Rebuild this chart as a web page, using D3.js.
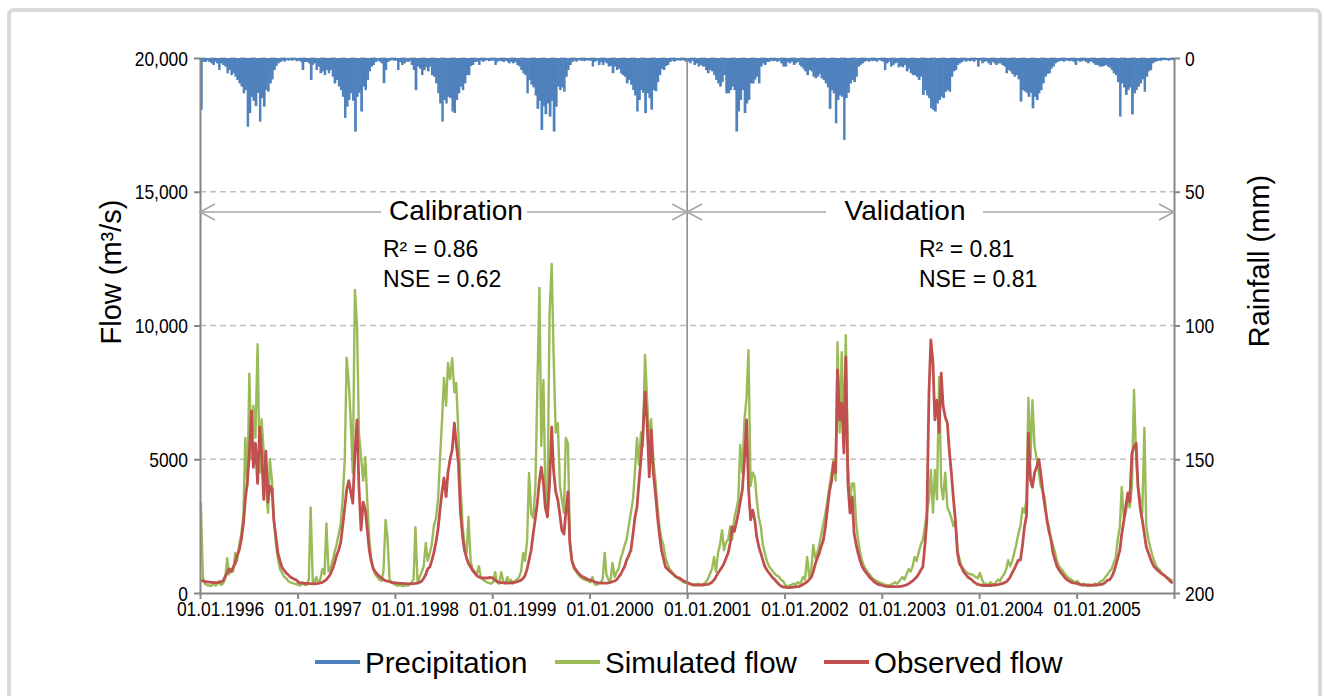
<!DOCTYPE html>
<html>
<head>
<meta charset="utf-8">
<script src="https://cdn.jsdelivr.net/npm/d3@7"></script>
<style>
  body { margin: 0; background: #fff; }
  text { font-family: "Liberation Sans", Arial, sans-serif; fill: #000; }
  .tick text { font-family: "Liberation Sans", Arial, sans-serif; font-size: 21px; }
</style>
</head>
<body>
<svg id="chart" width="1325" height="696"></svg>
<script>
// years on the x axis, each year holds 48 weekly readings (4 per month)
const years = [1996, 1997, 1998, 1999, 2000, 2001, 2002, 2003, 2004, 2005];

const flowTicks = [0, 5000, 10000, 15000, 20000];
const flowTickLabels = ["0", "5000", "10,000", "15,000", "20,000"];
const rainTicks = [0, 50, 100, 150, 200];

// observed flow, m3/s (one line = one year, Jan..Dec, 4 per month)
const observedFlow = [
  480,450,430,420, 410,400,400,390, 390,400,420,450, 600,750,900,800, 950,1100,1400,1600, 2000,2600,3500,4200, 5200,6800,4700,5600, 4100,6200,5300,3500, 5300,3400,4000,3900, 2700,2100,1500,1200, 950,850,750,680, 600,560,520,490,
  400,380,370,360, 360,350,350,340, 340,350,360,380, 400,450,500,600, 700,900,1100,1400, 1600,1900,2500,3200, 3850,4200,3800,3360, 5230,6470,4000,2350, 3400,3100,2400,1600, 1200,900,800,700, 620,560,500,460, 440,420,400,390,
  380,370,360,360, 350,350,340,340, 340,350,360,370, 400,450,550,700, 900,970,1200,1500, 1900,2400,3100,3800, 4300,3600,4500,5000, 5350,6350,5600,4860, 3000,2100,1600,1300, 1100,970,850,750, 650,600,570,560, 560,560,570,580,
  560,480,430,400, 390,380,380,370, 370,380,390,400, 420,450,480,550, 650,900,1230,1600, 2240,2800,3360,4200, 4700,4100,3200,2840, 4100,6200,4600,3800, 3480,2900,2350,2200, 3000,3780,1870,1200, 970,850,760,670, 620,580,540,500,
  490,450,420,400, 380,370,370,370, 370,380,400,420, 450,500,600,700, 850,1000,1230,1400, 1600,2200,2800,3220, 4100,5000,5980,7510, 6350,4340,6090,4500, 3740,2840,2200,1600, 1300,970,900,820, 750,680,620,580, 560,500,450,410,
  370,340,320,310, 300,300,300,300, 300,310,320,350, 400,490,600,750, 850,970,1100,1300, 1500,1900,2470,2300, 2600,2990,3400,3850, 4970,6470,3960,2730, 3100,2700,2100,1720, 1500,1230,1000,860, 750,650,560,490, 400,320,260,220,
  220,200,200,210, 220,230,240,250, 280,320,370,420, 500,600,800,1100, 1300,1500,1750,1980, 2500,3220,3800,4200, 4860,4500,8340,6470, 7100,5230,8820,4100, 2990,3590,2240,1800, 1500,1200,1000,860, 750,650,560,490, 420,360,320,300,
  280,260,250,240, 240,240,240,240, 240,250,260,280, 300,350,400,450, 520,600,700,850, 970,1800,2730,7470, 9460,8600,6470,7210, 6000,8220,7000,6580, 6350,5230,4490,3500, 2730,1500,1100,970, 800,700,600,550, 500,420,370,320,
  300,290,280,280, 280,280,290,300, 300,310,330,350, 380,420,490,600, 750,900,1050,1230, 1230,1800,2470,2900, 5980,4220,3960,4500, 4710,5000,4500,3800, 3220,2730,2300,1980, 1500,1230,1000,860, 750,650,560,490, 440,400,380,370,
  350,320,300,300, 300,300,290,290, 290,300,300,310, 320,350,400,480, 490,600,750,1000, 1300,1600,2200,2700, 3220,3740,3400,5230, 5460,5600,3960,3200, 2730,2200,1720,1500, 1300,1100,970,900, 820,750,700,650, 580,500,430,370
];

// simulated flow, m3/s
const simulatedFlow = [
  3400,600,350,300, 280,260,350,280, 300,450,300,350, 500,1300,700,900, 800,1500,1200,1800, 2200,3000,5800,4000, 8200,5000,7000,5800, 9300,4500,6500,5300, 4000,3000,5000,4200, 2800,1800,1300,900, 750,600,550,450, 400,380,350,330,
  300,280,400,300, 300,500,3200,400, 350,600,400,500, 900,700,2600,800, 900,1200,1500,1800, 2200,2600,3500,5000, 8800,7850,6500,4500, 11330,10000,6000,5080, 4200,5080,3500,2000, 1300,900,700,600, 500,450,800,2730, 2100,500,400,350,
  300,280,300,270, 260,300,280,350, 400,500,2460,400, 600,800,1000,1870, 1200,1500,1800,2500, 2800,3500,5000,6500, 8040,7000,8600,8000, 8780,7500,7850,6000, 4000,2500,1800,1500, 2840,1200,900,800, 700,1000,600,500, 450,400,380,350,
  400,780,400,350, 780,400,350,600, 400,500,350,450, 500,600,800,1500, 1200,2000,4490,3000, 2800,4000,7590,11400, 5500,7960,4000,3000, 10470,12300,8970,6000, 6350,4000,3500,3000, 5800,5600,2000,1200, 900,800,700,600, 550,500,480,450,
  400,600,350,300, 350,400,500,1500, 700,500,400,1120, 600,800,900,1300, 1500,1800,2000,2500, 3000,3500,4500,5800, 4800,6000,5500,8900, 7210,5500,6500,5000, 4200,3200,2500,2000, 1800,1300,1100,900, 800,700,600,550, 500,450,400,380,
  400,350,300,280, 300,350,300,320, 350,400,500,700, 900,1350,800,1500, 1800,2350,1600,1900, 2000,2500,2000,2800, 3100,3500,5530,4500, 6470,7330,9080,4000, 4500,4340,3500,2800, 2500,1800,1500,1200, 1000,900,800,700, 650,600,500,450,
  300,250,280,300, 350,300,400,350, 400,600,500,1350, 600,900,1800,1300, 1500,1800,2200,2600, 3000,3500,4000,4500, 5000,4200,9380,6000, 9000,5500,9640,4800, 3500,4100,4100,2600, 2000,1500,1200,1000, 850,750,650,550, 500,450,420,380,
  350,300,300,280, 300,350,400,350, 400,500,600,500, 700,900,800,1000, 1350,1200,1500,1800, 2000,2500,3000,3480, 4600,3000,4600,3500, 8070,4000,3500,4500, 3200,3000,2800,2500, 2730,1600,1300,1000, 900,800,750,700, 700,650,600,550,
  750,500,350,350, 300,400,350,300, 400,500,450,600, 700,900,1230,1000, 1200,1500,1800,2200, 2500,3170,3000,3500, 7290,5000,7210,5500, 5000,4500,4000,3800, 3500,2600,2500,2000, 1800,1500,1200,1000, 900,800,700,600, 550,500,450,400,
  450,350,300,350, 300,250,300,280, 300,350,300,400, 450,500,600,700, 800,900,1100,1300, 2000,2500,3960,2800, 3000,3500,3200,4000, 7590,5000,4000,3500, 3000,6170,2500,2000, 1700,1400,1200,1000, 900,800,700,650, 600,550,500,450
];

// precipitation, mm
const precipitation = [
  19.4,1.4,1.5,1.0, 1.5,2.0,2.6,1.4, 2.0,4.5,2.0,2.6, 3.2,5.7,4.5,6.4, 5.7,7.0,8.2,9.5, 10.7,13.2,12.0,25.7, 20.6,14.5,16.0,18.0, 13.0,23.8,15.0,18.2, 12.0,12.6,9.5,8.0, 4.5,3.0,2.0,1.5, 1.0,1.4,0.8,1.0, 0.8,1.0,0.7,1.2,
  1.0,1.4,4.5,1.5, 1.5,2.0,8.2,2.6, 2.0,4.5,3.2,5.7, 5.0,6.4,4.5,5.7, 4.5,7.0,9.5,8.2, 10.7,12.0,14.5,22.4, 18.2,15.7,13.2,16.0, 27.5,14.5,13.0,20.0, 10.7,12.0,8.2,5.0, 3.2,2.6,1.5,1.0, 1.4,2.0,9.4,4.5, 1.5,1.0,0.8,1.0,
  1.0,4.5,1.5,2.6, 2.0,1.4,1.4,1.0, 2.6,4.5,12.0,3.2, 4.0,6.4,4.5,3.5, 5.0,3.2,6.4,7.0, 9.5,13.2,17.0,23.8, 15.7,17.0,14.5,15.0, 20.0,20.6,15.7,13.2, 10.7,12.0,9.5,6.4, 6.4,3.0,2.6,1.5, 1.4,2.6,1.0,1.4, 1.0,0.8,1.2,1.0,
  1.0,2.6,1.4,1.0, 1.2,1.5,1.0,1.4, 2.0,1.4,2.0,1.5, 2.6,3.2,4.5,5.7, 6.4,13.2,8.2,10.0, 11.0,14.0,19.0,16.0, 26.9,18.0,21.0,17.0, 21.9,16.0,27.5,18.2, 10.7,12.0,11.0,12.6, 7.0,4.5,2.6,1.5, 1.0,1.4,0.8,1.0, 1.0,1.2,0.8,1.0,
  1.0,3.2,1.4,1.0, 2.6,1.5,2.6,1.4, 2.0,3.2,3.0,5.7, 3.2,4.5,4.0,5.7, 6.4,7.0,9.5,8.2, 10.0,12.0,14.0,20.0, 15.7,12.0,13.0,20.6, 13.2,15.0,19.3,12.0, 12.4,9.0,6.4,4.0, 4.5,3.0,2.6,1.5, 1.0,1.4,1.0,0.8, 1.0,0.8,1.0,1.4,
  1.4,2.0,1.0,2.6, 2.0,3.2,2.6,3.2, 3.2,4.5,5.7,4.5, 5.0,6.4,8.2,9.5, 10.7,9.0,6.4,13.2, 13.2,12.0,10.7,12.0, 27.5,20.0,15.7,12.0, 20.6,17.0,15.7,9.5, 9.5,8.0,7.0,9.5, 3.2,2.0,2.6,1.5, 1.4,1.0,1.2,1.0, 1.4,1.0,2.0,3.2,
  3.2,1.5,2.0,1.4, 2.6,2.0,1.5,2.6, 3.2,4.0,5.0,6.4, 4.5,5.0,7.0,7.6, 7.0,6.0,7.6,8.2, 9.5,11.0,19.0,12.0, 13.2,24.4,15.7,14.0, 14.5,30.6,15.0,13.0, 9.5,8.2,9.0,7.0, 3.2,2.6,2.0,1.4, 1.0,1.4,1.0,1.2, 1.0,1.4,0.8,1.0,
  1.4,4.5,2.0,1.4, 3.2,2.6,2.0,1.5, 3.5,3.0,3.5,2.6, 5.0,4.0,5.7,6.4, 6.4,7.0,8.2,7.0, 13.8,12.0,14.0,15.0, 18.8,19.4,20.0,17.0, 15.7,14.5,15.0,12.6, 12.0,12.6,7.0,5.0, 4.5,2.6,2.0,1.5, 1.0,1.4,1.0,1.2, 1.0,1.4,0.8,3.2,
  1.0,2.0,1.4,1.2, 2.0,2.6,1.5,2.0, 2.6,2.0,2.0,2.6, 3.2,5.7,4.5,5.0, 6.0,7.0,6.4,8.0, 16.3,12.0,12.5,13.0, 14.5,13.0,18.8,14.5, 15.7,13.2,12.0,9.5, 7.0,6.0,5.7,4.0, 3.2,2.0,1.5,1.2, 1.0,1.4,1.0,1.0, 1.2,1.0,1.4,2.6,
  1.0,1.4,1.2,1.0, 1.5,2.0,1.4,1.2, 2.0,2.6,2.6,3.2, 3.2,3.0,2.6,3.2, 3.6,4.5,5.7,6.4, 9.0,21.9,9.5,11.0, 13.8,12.0,11.0,21.1, 13.2,12.0,10.7,9.5, 8.0,12.6,7.0,5.0, 4.5,2.0,1.5,1.2, 1.0,1.0,0.8,0.8, 0.8,1.0,0.7,0.8
];

// date of a weekly reading, and start of the week it covers
function readingDate(i) {
  const yr = years[Math.floor(i / 48)], m = Math.floor(i / 4) % 12, q = i % 4;
  return new Date(yr, m, 4 + Math.round(q * 7.5));
}
function weekStart(i) {
  if (i >= years.length * 48) return new Date(years[years.length - 1] + 1, 0, 1);
  const yr = years[Math.floor(i / 48)], m = Math.floor(i / 4) % 12, q = i % 4;
  return new Date(yr, m, 1 + Math.round(q * 7.5));
}

const plotLeft = 200, plotRight = 1174, plotTop = 58, plotBottom = 593;
const svg = d3.select("#chart");

// outer frame
svg.append("rect")
  .attr("x", 9).attr("y", 10).attr("width", 1311).attr("height", 700)
  .attr("rx", 5)
  .attr("fill", "none").attr("stroke", "#d9d9d9").attr("stroke-width", 4);

const x = d3.scaleTime()
  .domain([new Date(years[0], 0, 1), new Date(years[years.length - 1] + 1, 0, 1)])
  .range([plotLeft, plotRight]);
const yFlow = d3.scaleLinear().domain([0, 20000]).range([plotBottom, plotTop]);
const yRain = d3.scaleLinear().domain([0, 200]).range([plotTop, plotBottom]);

// gridlines
svg.append("g").selectAll("line")
  .data(flowTicks.filter(d => d > 0))
  .enter().append("line")
  .attr("x1", plotLeft).attr("x2", plotRight)
  .attr("y1", d => yFlow(d)).attr("y2", d => yFlow(d))
  .attr("stroke", "#bfbfbf").attr("stroke-width", 1.3)
  .attr("stroke-dasharray", "6,4");

// precipitation bars hang from the top
svg.append("g").selectAll("rect")
  .data(precipitation)
  .enter().append("rect")
  .attr("x", (d, i) => x(weekStart(i)))
  .attr("width", (d, i) => x(weekStart(i + 1)) - x(weekStart(i)) + 0.6)
  .attr("y", yRain(0))
  .attr("height", d => yRain(d) - yRain(0))
  .attr("fill", "#4f81bd");

// flow lines
const flowLine = d3.line()
  .x((d, i) => x(readingDate(i)))
  .y(d => yFlow(d));

svg.append("path")
  .datum(simulatedFlow)
  .attr("d", flowLine)
  .attr("fill", "none")
  .attr("stroke", "#9bbb59")
  .attr("stroke-width", 2.4)
  .attr("stroke-linejoin", "round");

svg.append("path")
  .datum(observedFlow)
  .attr("d", flowLine)
  .attr("fill", "none")
  .attr("stroke", "#c0504d")
  .attr("stroke-width", 2.8)
  .attr("stroke-linejoin", "round");

// axes
function styleAxis(g) {
  g.select(".domain").attr("stroke", "#868686").attr("stroke-width", 2);
  g.selectAll(".tick line").attr("stroke", "#868686").attr("stroke-width", 2);
  g.selectAll(".tick text").attr("fill", "#000");
}
// the original tick font is a condensed face: squeeze the labels
function condense(g) {
  g.selectAll(".tick text").each(function () {
    const w = this.getComputedTextLength();
    if (w > 0) d3.select(this).attr("textLength", w * 0.83).attr("lengthAdjust", "spacingAndGlyphs");
  });
}

const leftAxis = svg.append("g")
  .attr("transform", `translate(${plotLeft},0)`)
  .call(d3.axisLeft(yFlow)
    .tickValues(flowTicks)
    .tickFormat(d => flowTickLabels[flowTicks.indexOf(d)])
    .tickSize(6).tickSizeOuter(0))
  .call(styleAxis);
leftAxis.selectAll(".tick text").attr("x", -12).attr("dy", "0.34em");
leftAxis.call(condense);

const rightAxis = svg.append("g")
  .attr("transform", `translate(${plotRight},0)`)
  .call(d3.axisRight(yRain)
    .tickValues(rainTicks)
    .tickSize(6).tickSizeOuter(0))
  .call(styleAxis);
rightAxis.selectAll(".tick text").attr("x", 11).attr("dy", "0.34em");
rightAxis.call(condense);

const yearDates = years.concat([years[years.length - 1] + 1]).map(y => new Date(y, 0, 1));
const dateFmt = d3.timeFormat("%d.%m.%Y");
const bottomAxis = svg.append("g")
  .attr("transform", `translate(0,${plotBottom})`)
  .call(d3.axisBottom(x)
    .tickValues(yearDates)
    .tickFormat(d => years.includes(d.getFullYear()) ? dateFmt(d) : "")
    .tickSize(6).tickSizeOuter(0))
  .call(styleAxis);
bottomAxis.selectAll(".tick text").attr("y", 23).attr("dy", 0).attr("dx", 20);
bottomAxis.call(condense);

// divider between calibration and validation
const splitX = x(new Date(2001, 0, 1));
svg.append("line")
  .attr("x1", splitX).attr("x2", splitX).attr("y1", plotTop).attr("y2", plotBottom)
  .attr("stroke", "#868686").attr("stroke-width", 1.5);

// period arrows
const arrowY = 212;
const arrows = svg.append("g").attr("stroke", "#a6a6a6").attr("stroke-width", 1.6).attr("fill", "none");
function period(x0, x1, gap0, gap1) {
  arrows.append("line").attr("x1", x0).attr("x2", gap0).attr("y1", arrowY).attr("y2", arrowY);
  arrows.append("line").attr("x1", gap1).attr("x2", x1).attr("y1", arrowY).attr("y2", arrowY);
  arrows.append("path").attr("d", `M${x0 + 15},${arrowY - 8}L${x0},${arrowY}L${x0 + 15},${arrowY + 8}`);
  arrows.append("path").attr("d", `M${x1 - 15},${arrowY - 8}L${x1},${arrowY}L${x1 - 15},${arrowY + 8}`);
}
period(plotLeft, splitX, 381, 527);
period(splitX, plotRight, 826, 983);

svg.append("text").attr("x", 456).attr("y", 220)
  .attr("text-anchor", "middle").style("font-size", "28px").text("Calibration");
svg.append("text").attr("x", 905).attr("y", 220)
  .attr("text-anchor", "middle").style("font-size", "28px").text("Validation");

function stats(x0, r2, nse) {
  svg.append("text").attr("x", x0).attr("y", 257).style("font-size", "23px").text(`R² = ${r2}`);
  svg.append("text").attr("x", x0).attr("y", 287).style("font-size", "23px").text(`NSE = ${nse}`);
}
stats(383, "0.86", "0.62");
stats(919, "0.81", "0.81");

// axis titles
svg.append("text")
  .attr("transform", "translate(121,272) rotate(-90)")
  .attr("text-anchor", "middle").style("font-size", "29px")
  .text("Flow (m³/s)");
svg.append("text")
  .attr("transform", "translate(1269,261) rotate(-90)")
  .attr("text-anchor", "middle").style("font-size", "29px")
  .text("Rainfall (mm)");

// legend
const legendItems = [
  { label: "Precipitation", color: "#4f81bd", x: 315 },
  { label: "Simulated flow", color: "#9bbb59", x: 555 },
  { label: "Observed flow", color: "#c0504d", x: 824 }
];
const legend = svg.append("g").selectAll("g")
  .data(legendItems)
  .enter().append("g")
  .attr("transform", d => `translate(${d.x},662)`);
legend.append("line")
  .attr("x1", 0).attr("x2", 45).attr("y1", 0).attr("y2", 0)
  .attr("stroke", d => d.color).attr("stroke-width", 4);
legend.append("text")
  .attr("x", 50).attr("y", 11)
  .style("font-size", "29.5px")
  .text(d => d.label);
</script>
</body>
</html>
